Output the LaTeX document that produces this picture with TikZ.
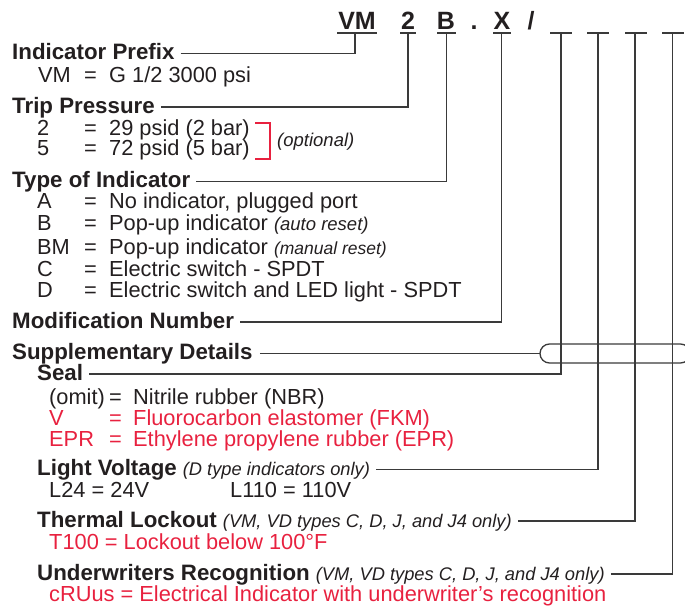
\documentclass[tikz,border=0pt]{standalone}
\usepackage{fontspec}
\setmainfont{Liberation Sans}
\definecolor{ink}{HTML}{231F20}
\definecolor{lred}{HTML}{E8213F}
\definecolor{rulec}{HTML}{3A3A3A}
\begin{document}
\begin{tikzpicture}[x=1pt,y=-1pt,
  txt/.style={anchor=base west, inner sep=0pt, font=\fontsize{21.8}{24}\selectfont, text=ink},
  hd/.style={anchor=base west, inner sep=0pt, font=\fontsize{22.3}{24}\selectfont\bfseries, text=ink},
  rtxt/.style={txt, text=lred},
  code/.style={anchor=base, inner sep=0pt, font=\fontsize{25}{28}\selectfont\bfseries, text=ink},
  ln/.style={draw=rulec, line width=1.3pt},
  note/.style={font=\fontsize{18.5}{20}\selectfont\itshape},
  ]
\useasboundingbox (0,0) rectangle (685,605);
\clip (0,0) rectangle (685,605);

% code line
\node[code] (kVM) at (357,29) {VM};
\node[code] (k2) at (408,29) {2};
\node[code] (kB) at (446,29) {B};
\node[code] (kdot) at (474,29) {.};
\node[code] (kX) at (502,29) {X};
\node[code] (kslash) at (531,29) {/};
\draw[ln] (337,33) -- (377,33);
\draw[ln] (400,33) -- (416,33);
\draw[ln] (437,33) -- (456,33);
\draw[ln] (493,33) -- (511,33);
\draw[ln] (550,33) -- (572,33);
\draw[ln] (587,33) -- (609,33);
\draw[ln] (625,33) -- (647,33);
\draw[ln] (662,33) -- (684,33);
\coordinate (cVM) at (355,33);
\coordinate (c2) at (408,33);
\coordinate (cB) at (446.5,33);
\coordinate (cX) at (501.5,33);
\coordinate (cS) at (561,33);
\coordinate (cL) at (598,33);
\coordinate (cT) at (635,33);
\coordinate (cU) at (672.7,33);

% Indicator prefix
\node[hd] (hIP) at (12,59.5) {Indicator Prefix};
\node[txt] (lVM) at (38,82) {VM};
\node[txt] at (84,82) {=};
\node[txt] at (109,82) {G 1/2 3000 psi};

% Trip pressure
\node[hd] (hTP) at (12,113) {Trip Pressure};
\node[txt] at (37,135) {2};
\node[txt] at (84,135) {=};
\node[txt] (v2) at (109,135) {29 psid (2 bar)};
\node[txt] at (37,155.5) {5};
\node[txt] at (84,155.5) {=};
\node[txt] (v5) at (109,155.5) {72 psid (5 bar)};
\draw[draw=lred, line width=1.3pt] (255,123) -- (270,123) -- (270,159) -- (255,159);
\node[txt, note] (opt) at (277,146) {(optional)};

% Type of indicator
\node[hd] (hTI) at (12,187.5) {Type of Indicator};
\node[txt] at (37,208.5) {A};
\node[txt] at (84,208.5) {=};
\node[txt] at (109,208.5) {No indicator, plugged port};
\node[txt] at (37,230) {B};
\node[txt] at (84,230) {=};
\node[txt] at (109,230) {Pop-up indicator {\fontsize{18.5}{20}\selectfont\itshape (auto reset)}};
\node[txt] at (37,254) {BM};
\node[txt] at (84,254) {=};
\node[txt] at (109,254) {Pop-up indicator {\fontsize{17.5}{20}\selectfont\itshape (manual reset)}};
\node[txt] at (37,276) {C};
\node[txt] at (84,276) {=};
\node[txt] at (109,276) {Electric switch - SPDT};
\node[txt] at (37,297.5) {D};
\node[txt] at (84,297.5) {=};
\node[txt] at (109,297.5) {Electric switch and LED light - SPDT};

% Modification
\node[hd] (hMN) at (12,328) {Modification Number};

% Supplementary
\node[hd] (hSD) at (12,359.5) {Supplementary Details};
\draw[ln, rounded corners=9.5pt] (540,344) rectangle (690,363);
\draw[ln] ([shift={(7pt,6pt)}]hSD.base east) -- (540,353.5);

\node[hd] (hSe) at (37,380) {Seal};
\node[txt] at (49,404) {(omit)};
\node[txt] at (109,404) {=};
\node[txt] at (133,404) {Nitrile rubber (NBR)};
\node[rtxt] at (49,425) {V};
\node[rtxt] at (109,425) {=};
\node[rtxt] at (133,425) {Fluorocarbon elastomer (FKM)};
\node[rtxt] at (49,446) {EPR};
\node[rtxt] at (109,446) {=};
\node[rtxt] at (133,446) {Ethylene propylene rubber (EPR)};

\node[txt] (hLV) at (37,475.5) {{\fontsize{22.3}{24}\selectfont\bfseries Light Voltage} {\fontsize{18.3}{22}\selectfont\itshape (D type indicators only)}};
\node[txt] at (49,497.5) {L24 = 24V};
\node[txt] at (230,497.5) {L110 = 110V};

\node[txt] (hTL) at (37,527) {{\fontsize{22.3}{24}\selectfont\bfseries Thermal Lockout} {\fontsize{18.3}{22}\selectfont\itshape (VM, VD types C, D, J, and J4 only)}};
\node[rtxt] at (49,549) {T100 = Lockout below 100°F};

\node[txt] (hUR) at (37,580) {{\fontsize{22.3}{24}\selectfont\bfseries Underwriters Recognition} {\fontsize{18.3}{22}\selectfont\itshape (VM, VD types C, D, J, and J4 only)}};
\node[rtxt] at (49,601.5) {cRUus = Electrical Indicator with underwriter’s recognition};

% connectors
\draw[ln] ([shift={(6pt,6pt)}]hIP.base east) -| (cVM);
\draw[ln] ([shift={(6pt,6pt)}]hTP.base east) -| (c2);
\draw[ln] ([shift={(6pt,6pt)}]hTI.base east) -| (cB);
\draw[ln] ([shift={(6pt,6pt)}]hMN.base east) -| (cX);
\draw[ln] ([shift={(6pt,6pt)}]hSe.base east) -| (cS);
\draw[ln] ([shift={(6pt,6pt)}]hLV.base east) -| (cL);
\draw[ln] ([shift={(6pt,6pt)}]hTL.base east) -| (cT);
\draw[ln] ([shift={(6pt,6pt)}]hUR.base east) -| (cU);
\end{tikzpicture}
\end{document}
